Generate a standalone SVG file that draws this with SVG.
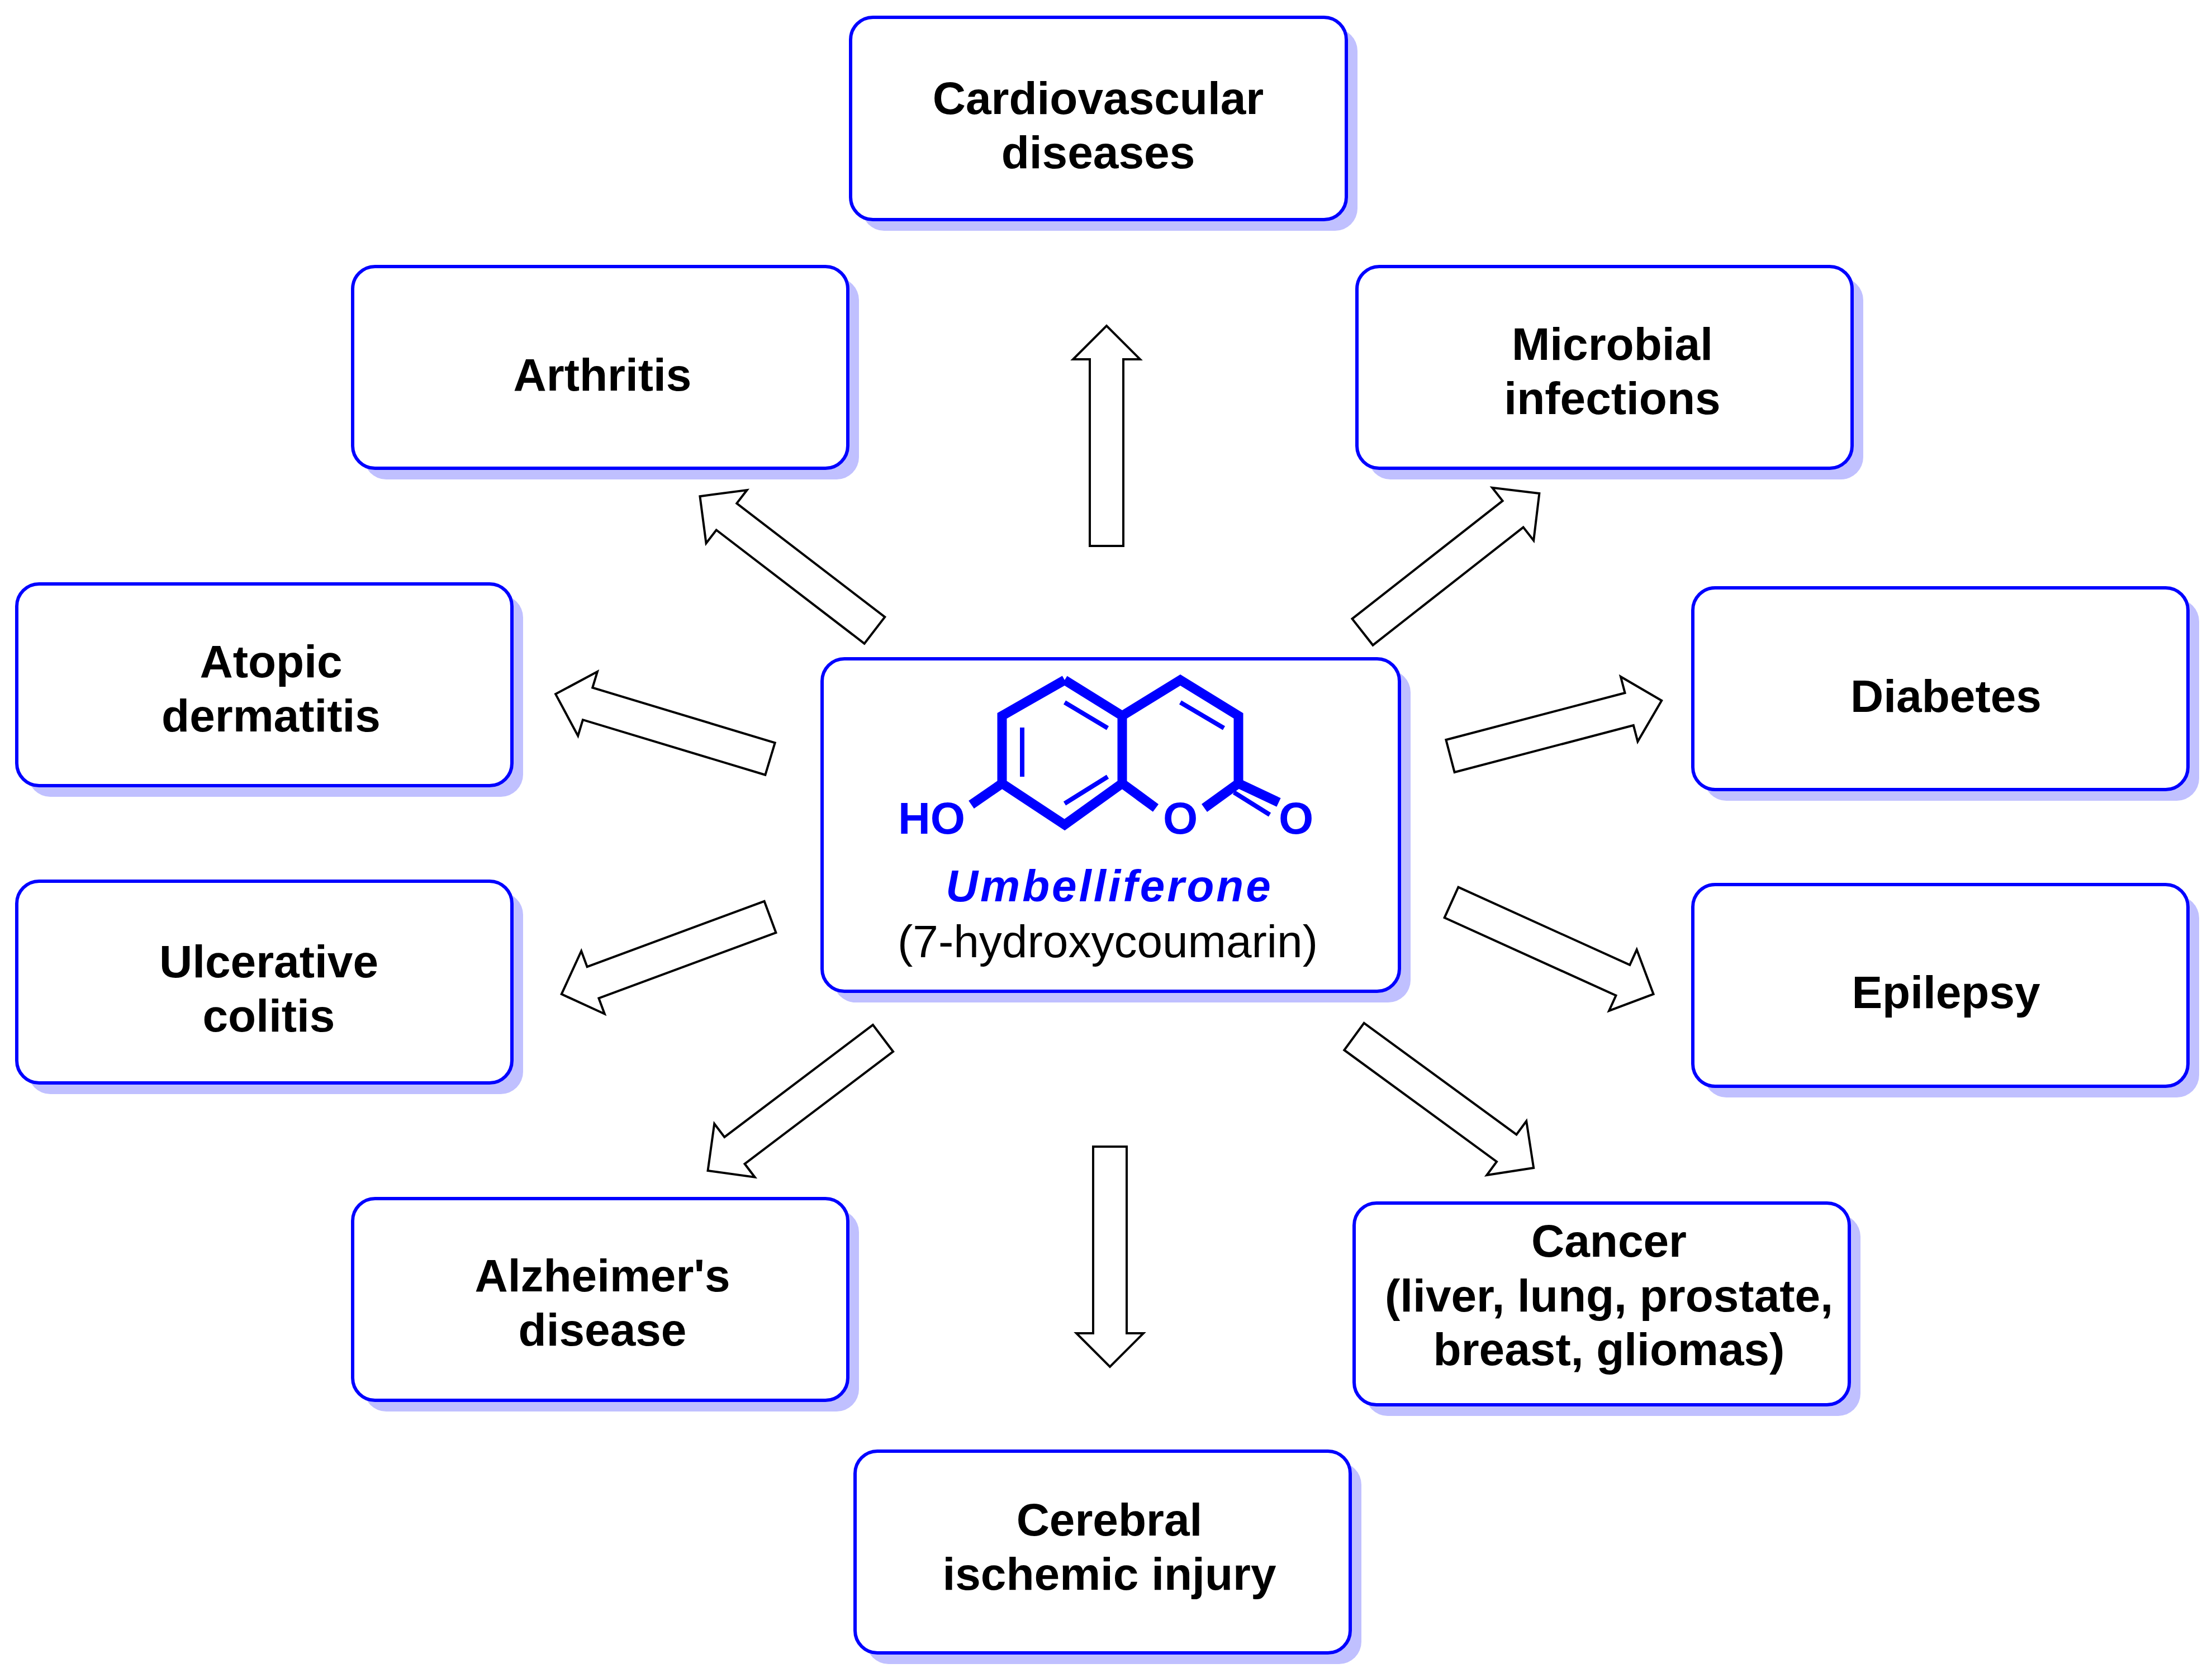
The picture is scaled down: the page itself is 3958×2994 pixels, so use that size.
<svg xmlns="http://www.w3.org/2000/svg" width="3958" height="2994" viewBox="0 0 3958 2994">
<style>
.sh{fill:#c0c0ff}
.bx{fill:#fff;stroke:#0000ff;stroke-width:6}
.t{font-family:"Liberation Sans",Arial,sans-serif;font-weight:bold;font-size:82px;text-anchor:middle;fill:#000}
.ar{fill:#fff;stroke:#000;stroke-width:4;stroke-linejoin:miter}
.b{stroke:#0000ff;stroke-width:17;fill:none;stroke-linejoin:miter}
.bi{stroke:#0000ff;stroke-width:8;fill:none}
</style>
<rect width="3958" height="2994" fill="#fff"/>
<g id="connectors">
<polygon class="ar" transform="translate(1980,977) rotate(-90)" points="0,-30 334,-30 334,-60 394,0 334,60 334,30 0,30"/>
<polygon class="ar" transform="translate(1986,2052) rotate(90)" points="0,-30 334,-30 334,-60 394,0 334,60 334,30 0,30"/>
<polygon class="ar" transform="translate(1565,1128) rotate(-142.5)" points="0,-30 334,-30 334,-60 394,0 334,60 334,30 0,30"/>
<polygon class="ar" transform="translate(2438,1131) rotate(-38.1)" points="0,-30 342,-30 342,-60 402,0 342,60 342,30 0,30"/>
<polygon class="ar" transform="translate(1378,1358) rotate(-163.2)" points="0,-30 341,-30 341,-60 401,0 341,60 341,30 0,30"/>
<polygon class="ar" transform="translate(2595,1353) rotate(-14.7)" points="0,-30 331,-30 331,-60 391,0 331,60 331,30 0,30"/>
<polygon class="ar" transform="translate(1378,1641) rotate(159.7)" points="0,-30 338,-30 338,-60 398,0 338,60 338,30 0,30"/>
<polygon class="ar" transform="translate(2597,1615) rotate(24.4)" points="0,-30 337,-30 337,-60 397,0 337,60 337,30 0,30"/>
<polygon class="ar" transform="translate(1580,1858) rotate(142.9)" points="0,-30 333,-30 333,-60 393,0 333,60 333,30 0,30"/>
<polygon class="ar" transform="translate(2423,1855) rotate(36.2)" points="0,-30 338,-30 338,-60 398,0 338,60 338,30 0,30"/>
</g>
<g id="cardio"><rect class="sh" x="1542" y="51" width="887" height="362" rx="40"/><rect class="bx" x="1522" y="31" width="887" height="362" rx="40"/>
<text class="t" x="1965" y="204">Cardiovascular</text><text class="t" x="1965" y="301">diseases</text></g>
<g id="arthritis"><rect class="sh" x="651" y="497" width="886" height="361" rx="40"/><rect class="bx" x="631" y="477" width="886" height="361" rx="40"/>
<text class="t" x="1078" y="699">Arthritis</text></g>
<g id="microbial"><rect class="sh" x="2448" y="497" width="886" height="361" rx="40"/><rect class="bx" x="2428" y="477" width="886" height="361" rx="40"/>
<text class="t" x="2885" y="644">Microbial</text><text class="t" x="2885" y="741">infections</text></g>
<g id="atopic"><rect class="sh" x="50" y="1065" width="886" height="361" rx="40"/><rect class="bx" x="30" y="1045" width="886" height="361" rx="40"/>
<text class="t" x="485" y="1212">Atopic</text><text class="t" x="485" y="1309">dermatitis</text></g>
<g id="diabetes"><rect class="sh" x="3049" y="1072" width="886" height="361" rx="40"/><rect class="bx" x="3029" y="1052" width="886" height="361" rx="40"/>
<text class="t" x="3482" y="1274">Diabetes</text></g>
<g id="ulcerative"><rect class="sh" x="50" y="1597" width="886" height="361" rx="40"/><rect class="bx" x="30" y="1577" width="886" height="361" rx="40"/>
<text class="t" x="481" y="1749">Ulcerative</text><text class="t" x="481" y="1846">colitis</text></g>
<g id="epilepsy"><rect class="sh" x="3049" y="1603" width="886" height="361" rx="40"/><rect class="bx" x="3029" y="1583" width="886" height="361" rx="40"/>
<text class="t" x="3482" y="1804">Epilepsy</text></g>
<g id="alzheimer"><rect class="sh" x="651" y="2165" width="886" height="361" rx="40"/><rect class="bx" x="631" y="2145" width="886" height="361" rx="40"/>
<text class="t" x="1078" y="2311">Alzheimer's</text><text class="t" x="1078" y="2408">disease</text></g>
<g id="cancer"><rect class="sh" x="2443" y="2173" width="886" height="361" rx="40"/><rect class="bx" x="2423" y="2153" width="886" height="361" rx="40"/>
<text class="t" x="2879" y="2249">Cancer</text><text class="t" x="2879" y="2347">(liver, lung, prostate,</text><text class="t" x="2879" y="2443">breast, gliomas)</text></g>
<g id="cerebral"><rect class="sh" x="1550" y="2617" width="886" height="361" rx="40"/><rect class="bx" x="1530" y="2597" width="886" height="361" rx="40"/>
<text class="t" x="1985" y="2748">Cerebral</text><text class="t" x="1985" y="2845">ischemic injury</text></g>
<g id="center"><rect class="sh" x="1491" y="1199" width="1033" height="595" rx="40"/><rect class="bx" x="1471" y="1179" width="1033" height="595" rx="40"/>
<polyline class="b" points="1905,1217 1793,1281 1793,1402 1905,1476 2008,1402 2008,1281 1905,1217"/>
<polyline class="b" points="2008,1281 2112,1217 2216,1281 2216,1402 2155,1446"/>
<line class="b" x1="2008" y1="1402" x2="2068" y2="1446"/>
<line class="b" x1="1793" y1="1402" x2="1738" y2="1440"/>
<line class="b" x1="2216" y1="1402" x2="2288" y2="1436"/>
<line class="bi" x1="1829" y1="1302" x2="1829" y2="1390"/>
<line class="bi" x1="1905" y1="1257" x2="1982" y2="1303"/>
<line class="bi" x1="1905" y1="1438" x2="1982" y2="1390"/>
<line class="bi" x1="2112" y1="1257" x2="2190" y2="1303"/>
<line class="bi" x1="2208" y1="1418" x2="2272" y2="1458"/>
<text x="1667" y="1492" font-family="Liberation Sans,Arial,sans-serif" font-weight="bold" font-size="80" fill="#0000ff" text-anchor="middle">HO</text>
<text x="2112" y="1492" font-family="Liberation Sans,Arial,sans-serif" font-weight="bold" font-size="80" fill="#0000ff" text-anchor="middle">O</text>
<text x="2319" y="1492" font-family="Liberation Sans,Arial,sans-serif" font-weight="bold" font-size="80" fill="#0000ff" text-anchor="middle">O</text>
<text x="1985" y="1613" font-family="Liberation Sans,Arial,sans-serif" font-weight="bold" font-style="italic" font-size="80" letter-spacing="4" fill="#0000ff" text-anchor="middle">Umbelliferone</text>
<text x="1982" y="1713" font-family="Liberation Sans,Arial,sans-serif" font-size="82" fill="#000" text-anchor="middle">(7-hydroxycoumarin)</text>
</g>
</svg>
